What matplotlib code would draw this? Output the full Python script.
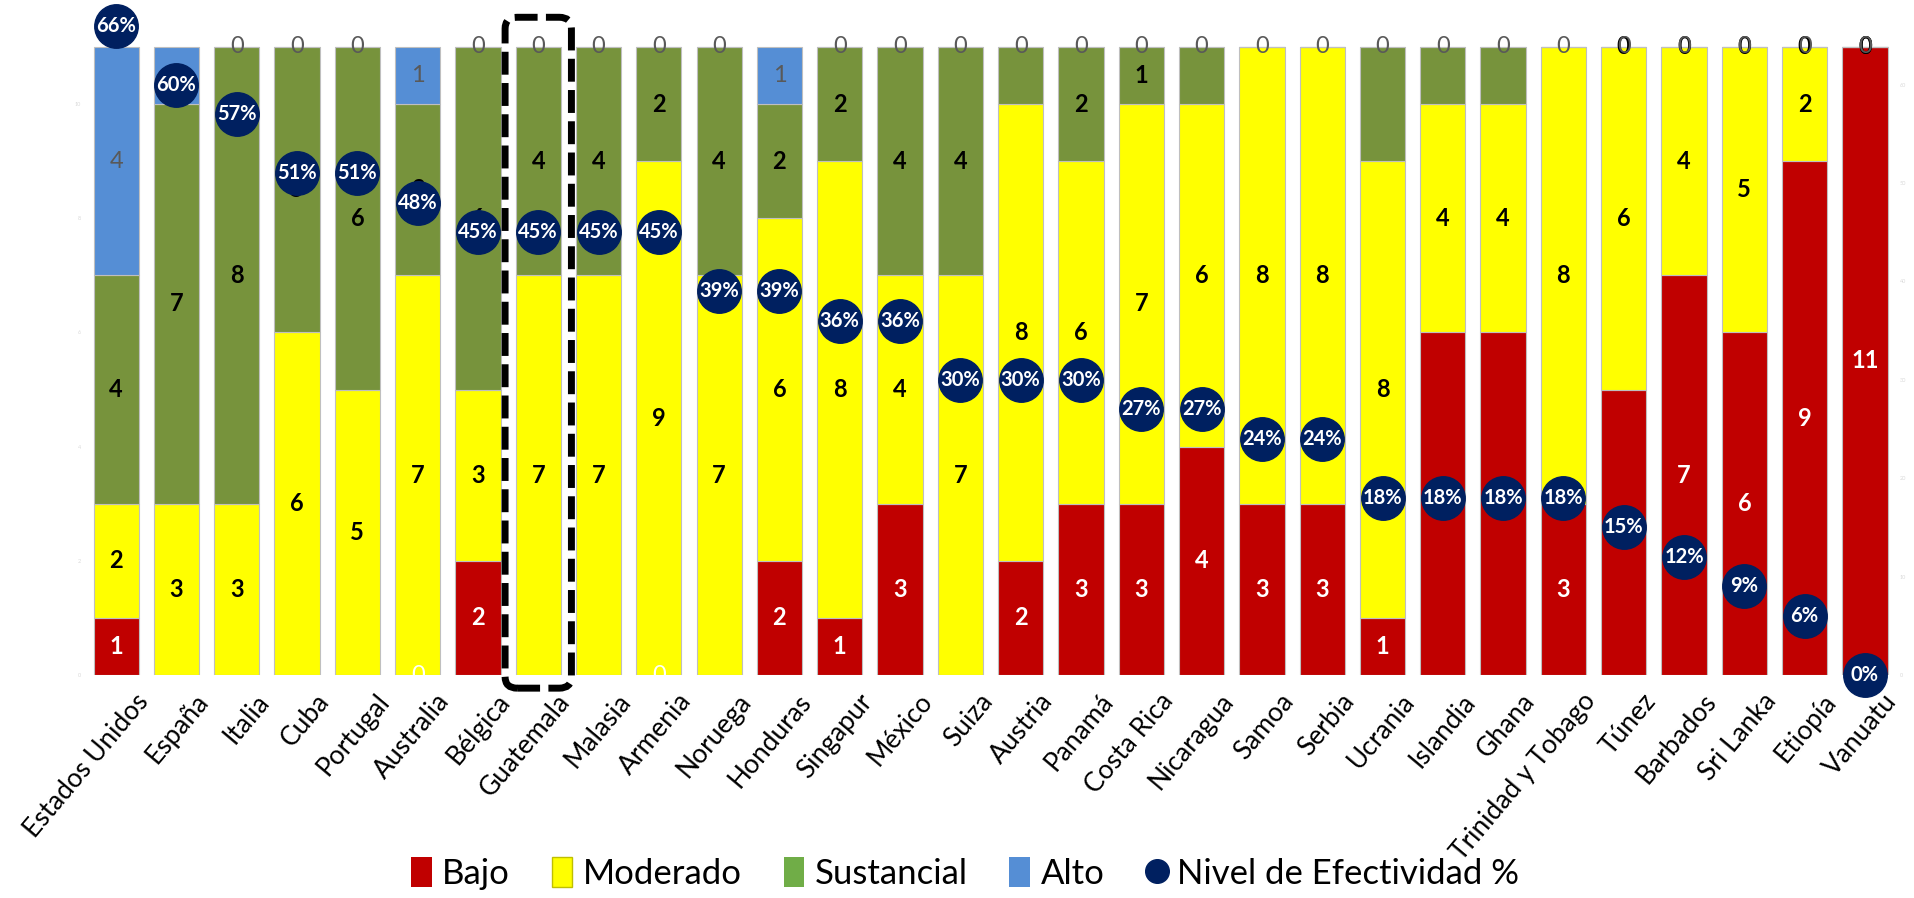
import matplotlib.pyplot as plt
from matplotlib.patches import Patch, FancyBboxPatch
from matplotlib.lines import Line2D
from matplotlib.transforms import ScaledTranslation
import numpy as np

plt.rcParams["font.family"] = ["Lato", "DejaVu Sans"]

paises = ["Estados Unidos", "España", "Italia", "Cuba", "Portugal", "Australia",
          "Bélgica", "Guatemala", "Malasia", "Armenia", "Noruega", "Honduras",
          "Singapur", "México", "Suiza", "Austria", "Panamá", "Costa Rica",
          "Nicaragua", "Samoa", "Serbia", "Ucrania", "Islandia", "Ghana",
          "Trinidad y Tobago", "Túnez", "Barbados", "Sri Lanka", "Etiopía", "Vanuatu"]

bajo = [1, 0, 0, 0, 0, 0, 2, 0, 0, 0, 0, 2, 1, 3, 0, 2, 3, 3, 4, 3, 3, 1, 6, 6, 3, 5, 7, 6, 9, 11]
moderado = [2, 3, 3, 6, 5, 7, 3, 7, 7, 9, 7, 6, 8, 4, 7, 8, 6, 7, 6, 8, 8, 8, 4, 4, 8, 6, 4, 5, 2, 0]
sustancial = [4, 7, 8, 5, 6, 3, 6, 4, 4, 2, 4, 2, 2, 4, 4, 1, 2, 1, 1, 0, 0, 2, 1, 1, 0, 0, 0, 0, 0, 0]
alto = [4, 1, 0, 0, 0, 1, 0, 0, 0, 0, 0, 1, 0, 0, 0, 0, 0, 0, 0, 0, 0, 0, 0, 0, 0, 0, 0, 0, 0, 0]
efectividad = [66, 60, 57, 51, 51, 48, 45, 45, 45, 45, 39, 39, 36, 36, 30, 30, 30,
               27, 27, 24, 24, 18, 18, 18, 18, 15, 12, 9, 6, 0]

# etiquetas tal como aparecen en el grafico ("" = sin etiqueta)
lbl_bajo = ["1", "", "", "", "", "0", "2", "", "", "0", "", "2", "1", "3", "", "2", "3", "3",
            "4", "3", "3", "1", "6", "6", "3", "5", "7", "6", "9", "11"]
lbl_moderado = [str(v) for v in moderado]
lbl_sustancial = ["4", "7", "8", "5", "6", "3", "6", "4", "4", "2", "4", "2", "2", "4", "4", "",
                  "2", "1", "", "", "", "", "", "", "", "0", "0", "0", "0", "0"]
lbl_alto = [str(v) for v in alto]

c_bajo = "#C00000"
c_mod = "#FFFF00"
c_sus = "#77933C"
c_alto = "#558ED5"
c_dot = "#002060"

fig = plt.figure(figsize=(19.15, 8.98), dpi=100)
ax = fig.add_axes([0.0449, 0.2483, 0.9447, 0.7439])

x = np.arange(len(paises))
b = np.array(bajo)
m = np.array(moderado)
s = np.array(sustancial)
a = np.array(alto)
w = 0.75
ec = "#BFBFBF"

ax.bar(x, b, w, color=c_bajo, edgecolor=ec, linewidth=0.8, zorder=2)
ax.bar(x, m, w, bottom=b, color=c_mod, edgecolor=ec, linewidth=0.8, zorder=2)
ax.bar(x, s, w, bottom=b + m, color=c_sus, edgecolor=ec, linewidth=0.8, zorder=2)
ax.bar(x, a, w, bottom=b + m + s, color=c_alto, edgecolor=ec, linewidth=0.8, zorder=2)

for i in range(len(paises)):
    if lbl_bajo[i]:
        ax.text(x[i], b[i] / 2, lbl_bajo[i], ha="center", va="center", color="white",
                fontsize=17, fontweight="bold" if b[i] > 0 else "normal", zorder=3)
    if lbl_moderado[i]:
        ax.text(x[i], b[i] + m[i] / 2, lbl_moderado[i], ha="center", va="center",
                color="black", fontsize=17, fontweight="bold", zorder=3)
    if lbl_sustancial[i]:
        ax.text(x[i], b[i] + m[i] + s[i] / 2, lbl_sustancial[i], ha="center", va="center",
                color="black", fontsize=17, fontweight="bold", zorder=3)
    if lbl_alto[i]:
        ax.text(x[i], b[i] + m[i] + s[i] + a[i] / 2, lbl_alto[i], ha="center", va="center",
                color="#595959", fontsize=17, zorder=3)

ax.set_xlim(-0.5, len(paises) - 0.5)
ax.set_ylim(0, 11.7)
ax.set_yticks(np.arange(0, 12, 2))
ax.tick_params(axis="y", length=0, labelsize=4, labelcolor="#d9d9d9")
ax.set_xticks(x)
ax.set_xticklabels(paises, rotation=50, ha="right", rotation_mode="anchor", fontsize=19)
ax.tick_params(axis="x", length=0, pad=10)
shift = ScaledTranslation(18 / 100, 0, fig.dpi_scale_trans)
for lab in ax.get_xticklabels():
    lab.set_transform(lab.get_transform() + shift)
for sp in ax.spines.values():
    sp.set_visible(False)

# recuadro punteado de Guatemala
gi = paises.index("Guatemala")
box = FancyBboxPatch((gi - 0.55, -0.23), 1.1, 11.75,
                     boxstyle="round,pad=0,rounding_size=0.2",
                     fill=False, edgecolor="black", linewidth=5,
                     linestyle=(0, (3.3, 1.2)), clip_on=False, zorder=5)
ax.add_patch(box)

ax2 = ax.twinx()
ax2.set_ylim(0, 67.9)
ax2.set_yticks(np.arange(0, 70, 10))
ax2.tick_params(axis="y", length=0, labelsize=4, labelcolor="#d9d9d9")
for sp in ax2.spines.values():
    sp.set_visible(False)
ax2.scatter(x, efectividad, s=980, color=c_dot, zorder=4, clip_on=False)
for i, v in enumerate(efectividad):
    ax2.text(x[i], v, "{}%".format(v), ha="center", va="center", color="white",
             fontsize=14.5, fontweight="bold", zorder=5)

handles = [
    Patch(facecolor=c_bajo, label="Bajo"),
    Patch(facecolor=c_mod, edgecolor="#BFBF00", label="Moderado"),
    Patch(facecolor="#70AD47", label="Sustancial"),
    Patch(facecolor=c_alto, label="Alto"),
    Line2D([], [], marker="o", linestyle="none", markersize=17, color=c_dot,
           label="Nivel de Efectividad %"),
]
fig.legend(handles=handles, loc="center", bbox_to_anchor=(0.504, 0.027), ncol=5,
           frameon=False, fontsize=25, handlelength=0.6, handleheight=0.95,
           handletextpad=0.3, columnspacing=1.2)

fig.savefig("out.png", dpi=100)
